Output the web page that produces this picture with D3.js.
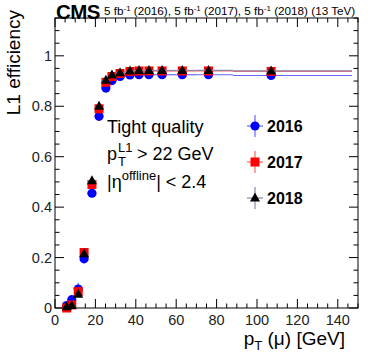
<!DOCTYPE html>
<html>
<head>
<meta charset="utf-8">
<script src="https://cdn.jsdelivr.net/npm/d3@7"></script>
<style>
  body { margin: 0; background: #fff; }
  svg { font-family: "Liberation Sans", Arial, sans-serif; }
</style>
</head>
<body>
<div id="chart"></div>
<script>
// bin mean pT and bin edges (GeV)
const ptMean = [5.8, 8.3, 11.5, 14.4, 18.3, 21.8, 25.2, 28.2, 32.2, 37.1, 41.6, 46.5, 53, 63, 76, 107];
const ptLow  = [5, 7, 10, 13, 16, 20, 23, 27, 30, 35, 40, 45, 50, 60, 70, 88];
const ptHigh = [7, 10, 13, 16, 20, 23, 27, 30, 35, 40, 45, 50, 60, 70, 88, 147];

const eff2016 = [0.01, 0.033, 0.075, 0.195, 0.455, 0.76, 0.872, 0.902, 0.918, 0.924, 0.925, 0.925, 0.925, 0.925, 0.925, 0.922];
const eff2017 = [0.0, 0.012, 0.065, 0.22, 0.49, 0.79, 0.895, 0.918, 0.93, 0.938, 0.94, 0.94, 0.94, 0.94, 0.94, 0.938];
const eff2018 = [0.005, 0.01, 0.055, 0.215, 0.505, 0.8, 0.903, 0.924, 0.933, 0.94, 0.942, 0.942, 0.942, 0.942, 0.942, 0.94];
const err2016 = [0.01, 0.01, 0.025, 0.015, 0.01, 0.008, 0.005, 0.004, 0.003, 0.003, 0.003, 0.003, 0.002, 0.002, 0.002, 0.002];

const years = ["2016", "2017", "2018"];
const xTicks = [0, 20, 40, 60, 80, 100, 120, 140];
const yTicks = [0, 0.2, 0.4, 0.6, 0.8, 1];

const W = 374, H = 360;
const mLeft = 55, mRight = 358, mTop = 18, mBottom = 308;

const svg = d3.select("#chart").append("svg")
    .attr("width", W).attr("height", H);

const x = d3.scaleLinear().domain([0, 150]).range([mLeft, mRight]);
const y = d3.scaleLinear().domain([0, 1.15]).range([mBottom, mTop]);

// frame
svg.append("rect")
    .attr("x", mLeft).attr("y", mTop)
    .attr("width", mRight - mLeft).attr("height", mBottom - mTop)
    .attr("fill", "none").attr("stroke", "#000").attr("stroke-width", 1);

// ticks (inward, ROOT style, mirrored)
const xMinor = d3.range(0, 151, 5);
const yMinor = d3.range(0, 1.151, 0.05);
const tickG = svg.append("g").attr("stroke", "#000").attr("stroke-width", 1);
xMinor.forEach(v => {
    const len = v % 20 === 0 ? 9 : 4.5;
    tickG.append("line").attr("x1", x(v)).attr("x2", x(v)).attr("y1", mBottom).attr("y2", mBottom - len);
    tickG.append("line").attr("x1", x(v)).attr("x2", x(v)).attr("y1", mTop).attr("y2", mTop + len);
});
yMinor.forEach((v, i) => {
    const len = i % 4 === 0 ? 9 : 4.5;
    tickG.append("line").attr("x1", mLeft).attr("x2", mLeft + len).attr("y1", y(v)).attr("y2", y(v));
    tickG.append("line").attr("x1", mRight).attr("x2", mRight - len).attr("y1", y(v)).attr("y2", y(v));
});

// tick labels
svg.append("g").selectAll("text").data(xTicks).join("text")
    .attr("x", d => x(d)).attr("y", mBottom + 17)
    .attr("text-anchor", "middle").attr("font-size", 14.5).attr("fill", "#222")
    .text(d => d);
svg.append("g").selectAll("text").data(yTicks).join("text")
    .attr("x", mLeft - 3).attr("y", d => y(d) + 5)
    .attr("text-anchor", "end").attr("font-size", 14.5).attr("fill", "#222")
    .text(d => d);

// axis titles
const xt = svg.append("text").attr("x", mRight - 13).attr("y", 345)
    .attr("text-anchor", "end").attr("font-size", 19);
xt.append("tspan").text("p");
xt.append("tspan").attr("dy", 5).attr("font-size", 13).text("T");
xt.append("tspan").attr("dy", -5).text(" (\u03bc) [GeV]");

svg.append("text")
    .attr("transform", `translate(20, ${mTop - 8}) rotate(-90)`)
    .attr("text-anchor", "end").attr("font-size", 19)
    .text("L1 efficiency");

// header
svg.append("text").attr("x", mLeft + 1).attr("y", 18.5)
    .attr("font-size", 20.5).attr("font-weight", "bold").attr("letter-spacing", -0.6)
    .text("CMS");
const hdr = svg.append("text").attr("x", 104).attr("y", 15).attr("font-size", 11.7);
years.forEach((yr, i) => {
    hdr.append("tspan").text((i === 0 ? "" : ", ") + "5 fb");
    hdr.append("tspan").attr("dy", -4).attr("font-size", 8).text("-1");
    hdr.append("tspan").attr("dy", 4).attr("font-size", 11.7).text(" (" + yr + ")");
});
hdr.append("tspan").text(" (13 TeV)");

// series
const series = [
    { name: "2016", vals: eff2016, errs: err2016, color: "#0000ff", bar: "#6666ff", shape: "circle" },
    { name: "2017", vals: eff2017, errs: null, color: "#ff0000", bar: "#ff6666", shape: "square" },
    { name: "2018", vals: eff2018, errs: null, color: "#000000", bar: "#8888aa", shape: "triangle" }
];

function marker(g, s, cx, cy) {
    if (s.shape === "circle") {
        g.append("circle").attr("cx", cx).attr("cy", cy).attr("r", 4.6).attr("fill", s.color);
    } else if (s.shape === "square") {
        g.append("rect").attr("x", cx - 4.5).attr("y", cy - 4.5).attr("width", 9).attr("height", 9).attr("fill", s.color);
    } else {
        g.append("path").attr("d", `M${cx},${cy - 5.5}L${cx + 5},${cy + 3.5}L${cx - 5},${cy + 3.5}Z`).attr("fill", s.color);
    }
}

const plot = svg.append("g");
series.forEach(s => {
    const g = plot.append("g");
    s.vals.forEach((v, i) => {
        g.append("line")
            .attr("x1", x(ptLow[i])).attr("x2", x(ptHigh[i]))
            .attr("y1", y(v)).attr("y2", y(v))
            .attr("stroke", s.bar).attr("stroke-width", 1.2);
        const e = s.errs ? s.errs[i] : 0.006;
        g.append("line")
            .attr("x1", x(ptMean[i])).attr("x2", x(ptMean[i]))
            .attr("y1", y(v - e)).attr("y2", y(v + e))
            .attr("stroke", s.bar).attr("stroke-width", 1.2);
    });
    s.vals.forEach((v, i) => marker(g, s, x(ptMean[i]), y(v)));
});

// text block
const tb = svg.append("g").attr("font-size", 18).attr("fill", "#000");
tb.append("text").attr("x", 107).attr("y", 133).text("Tight quality");
tb.append("text").attr("x", 107).attr("y", 160).text("p");
tb.append("text").attr("x", 118).attr("y", 152).attr("font-size", 13).text("L1");
tb.append("text").attr("x", 118).attr("y", 166).attr("font-size", 13).text("T");
tb.append("text").attr("x", 137).attr("y", 160).text("> 22 GeV");
const t3 = tb.append("text").attr("x", 107).attr("y", 188);
t3.append("tspan").text("|\u03b7");
t3.append("tspan").attr("dy", -8).attr("font-size", 13).text("offline");
t3.append("tspan").attr("dy", 8).text("| < 2.4");

// legend
const leg = svg.append("g");
series.forEach((s, i) => {
    const cx = 255, cy = 126 + i * 36;
    leg.append("line").attr("x1", cx - 8).attr("x2", cx + 8).attr("y1", cy).attr("y2", cy)
        .attr("stroke", s.bar).attr("stroke-width", 1.2);
    leg.append("line").attr("x1", cx).attr("x2", cx).attr("y1", cy - 11).attr("y2", cy + 11)
        .attr("stroke", s.bar).attr("stroke-width", 1.2);
    marker(leg, s, cx, cy);
    leg.append("text").attr("x", 267).attr("y", cy + 6)
        .attr("font-size", 16).attr("font-weight", "bold").text(s.name);
});
</script>
</body>
</html>
